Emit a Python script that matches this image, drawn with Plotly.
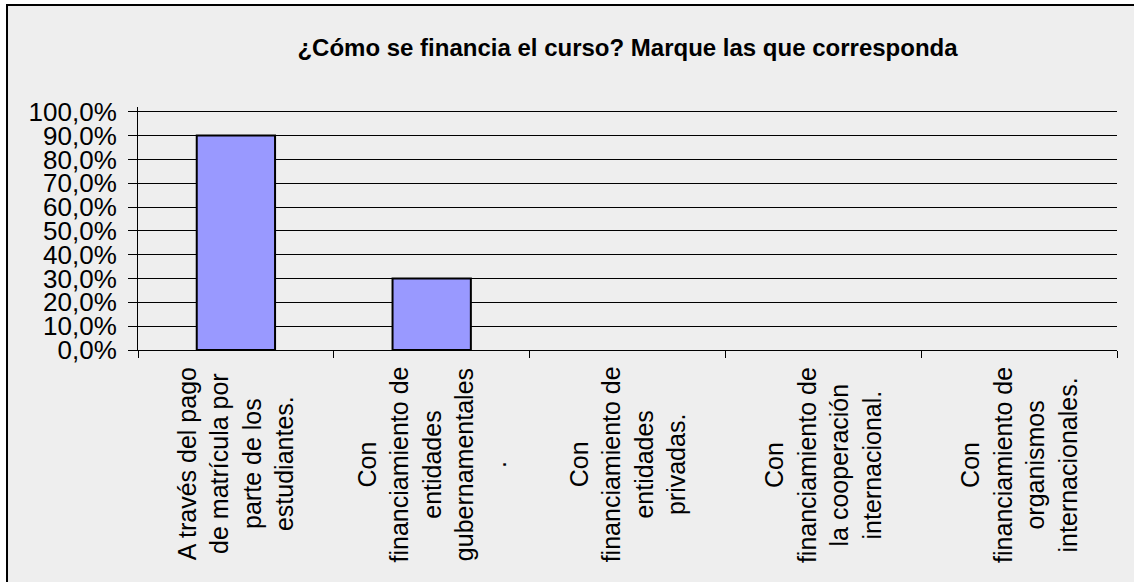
import plotly.graph_objects as go

categorias = [
    "A través del pago<br>de matrícula por<br>parte de los<br>estudiantes.",
    "Con<br>financiamiento de<br>entidades<br>gubernamentales<br>.",
    "Con<br>financiamiento de<br>entidades<br>privadas.",
    "Con<br>financiamiento de<br>la cooperación<br>internacional.",
    "Con<br>financiamiento de<br>organismos<br>internacionales.",
]
porcentajes = [0.90, 0.30, 0.0, 0.0, 0.0]
ticks_y = [i / 10 for i in range(11)]

titulo = "¿Cómo se financia el curso? Marque las que corresponda"
fuente = "Liberation Sans, Arial, sans-serif"

fig = go.Figure()
fig.add_trace(go.Bar(
    x=categorias,
    y=porcentajes,
    marker=dict(
        color="#9999ff",
        # las barras en cero no muestran borde
        line=dict(color="black", width=[2 if v > 0 else 0 for v in porcentajes]),
    ),
    hoverinfo="skip",
))

# etiquetas del eje x giradas y centradas, como en el original
for c in categorias:
    fig.add_annotation(
        x=c, xref="x", y=-0.061, yref="paper",
        text=c, textangle=-90, showarrow=False,
        xanchor="center", yanchor="top", align="center",
        font=dict(family=fuente, size=25, color="black"),
    )

# marco exterior del gráfico
fig.add_shape(
    type="rect", xref="paper", yref="paper",
    x0=-0.1338, x1=1.1, y0=-1.2, y1=1.42,
    fillcolor="#eeeeee", line=dict(color="black", width=2), layer="below",
)

fig.update_layout(
    width=1134, height=582,
    margin=dict(l=138, r=17, t=107, b=232),
    paper_bgcolor="white",
    plot_bgcolor="rgba(0,0,0,0)",
    separators=",.",
    showlegend=False,
    bargap=0.6,
    font=dict(family=fuente, color="black"),
    title=dict(
        text="<b>" + titulo + "</b>",
        x=0.5, xref="paper", xanchor="center",
        y=1 - 48 / 582, yref="container", yanchor="middle",
        font=dict(family=fuente, size=24, color="black"),
    ),
)
fig.update_xaxes(
    type="category",
    showticklabels=False,
    showline=True, linecolor="black", linewidth=1,
    ticks="outside", tickson="boundaries", ticklen=7, tickcolor="black",
    showgrid=False, zeroline=False,
)
fig.update_yaxes(
    range=[0, 1.02],
    tickmode="array", tickvals=ticks_y, tickformat=".1%",
    tickfont=dict(family=fuente, size=26, color="black"),
    ticklabelstandoff=6,
    automargin=False,
    showline=True, linecolor="black", linewidth=1,
    ticks="outside", ticklen=9, tickcolor="black",
    showgrid=True, gridcolor="black", gridwidth=1,
    zeroline=False,
)

fig.write_html(
    "out.html",
    config={"displayModeBar": False},
    post_script="document.body.style.margin = '0';",
)
